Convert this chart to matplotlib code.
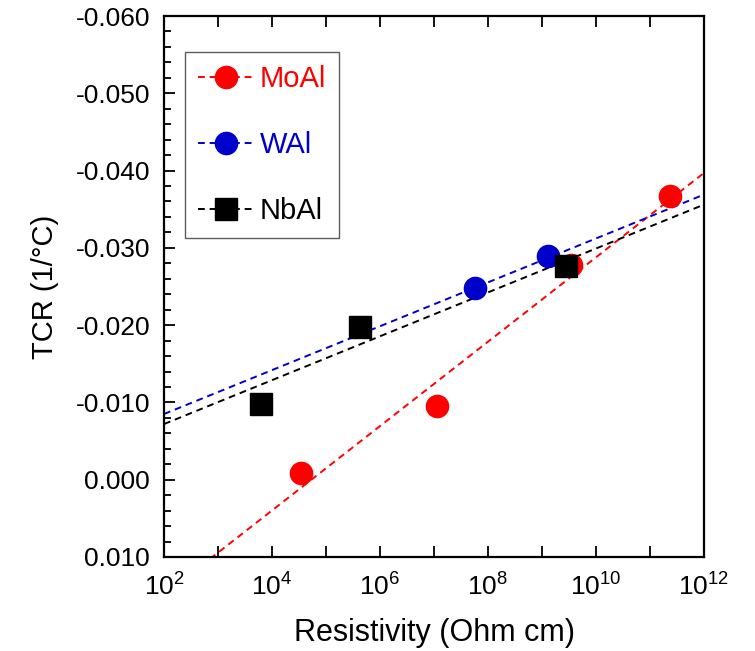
import numpy as np
import matplotlib
matplotlib.use('Agg')
import matplotlib.pyplot as plt
from matplotlib.ticker import FixedLocator, FuncFormatter, MultipleLocator

plt.rcParams['font.family'] = ['Liberation Sans', 'DejaVu Sans']
plt.rcParams['mathtext.default'] = 'regular'
plt.rcParams['axes.unicode_minus'] = False

# measured points (resistivity in Ohm cm, TCR in 1/C)
moal_x = [3.4e4, 1.15e7, 3.4e9, 2.3e11]
moal_y = [-0.0009, -0.0095, -0.0278, -0.0367]
wal_x = [5.7e7, 1.3e9]
wal_y = [-0.0248, -0.0290]
nbal_x = [6.2e3, 4.3e5, 2.8e9]
nbal_y = [-0.0098, -0.0197, -0.0276]

# dashed fit lines, values at the two ends of the x range
fit_x = [1e2, 1e12]
moal_fit = [0.0149, -0.0397]
wal_fit = [-0.0085, -0.0369]
nbal_fit = [-0.0072, -0.0356]

series = [
    ('MoAl', moal_x, moal_y, moal_fit, '#ff0000', 'o'),
    ('WAl', wal_x, wal_y, wal_fit, '#0000cc', 'o'),
    ('NbAl', nbal_x, nbal_y, nbal_fit, '#000000', 's'),
]

fig = plt.figure(figsize=(7.55, 6.51), dpi=100)
ax = fig.add_axes([0.2172, 0.1444, 0.7153, 0.831])

dash = (0, (3.5, 2.5))
handles = []
for name, xs, ys, fit, col, mk in series:
    ax.plot(fit_x, fit, ls=dash, lw=1.4, color=col, zorder=2)
    ax.plot(xs, ys, ls='none', marker=mk, ms=16, color=col, zorder=3)
    h, = ax.plot([], [], ls=dash, lw=1.4, color=col,
                 marker=mk, ms=16, label=name)
    handles.append(h)

ax.set_xscale('log')
ax.set_xlim(1e2, 1e12)
ax.set_ylim(0.010, -0.060)

ax.xaxis.set_major_locator(FixedLocator([10.0 ** k for k in range(2, 13)]))
ax.xaxis.set_minor_locator(FixedLocator([]))
ax.xaxis.set_major_formatter(FuncFormatter(
    lambda v, p: '$10^{%d}$' % round(np.log10(v)) if round(np.log10(v)) % 2 == 0 else ''))
ax.yaxis.set_major_locator(MultipleLocator(0.010))
ax.yaxis.set_minor_locator(MultipleLocator(0.002))
ax.yaxis.set_major_formatter(FuncFormatter(lambda v, p: '%.3f' % v))

ax.tick_params(axis='x', which='both', direction='in', top=True, bottom=True,
               length=8, width=1.3, labelsize=19, pad=12)
ax.tick_params(axis='y', which='major', direction='in', left=True, right=False,
               length=8, width=1.3, labelsize=19, pad=10)
ax.tick_params(axis='y', which='minor', direction='in', left=True, right=False,
               length=5, width=1.3)
for s in ax.spines.values():
    s.set_linewidth(1.6)

ax.set_xlabel('Resistivity (Ohm cm)', fontsize=22, labelpad=12)
ax.set_ylabel('TCR (1/°C)', fontsize=21, labelpad=12)

leg = ax.legend(handles=handles, loc='upper left', bbox_to_anchor=(0.039, 0.933),
                fontsize=21, labelcolor='linecolor', frameon=True, fancybox=False,
                edgecolor='#333333', handlelength=1.9, handletextpad=0.2,
                labelspacing=1.3, borderpad=0.45, borderaxespad=0)
leg.get_frame().set_linewidth(1.0)

fig.savefig('out.png', dpi=100)
